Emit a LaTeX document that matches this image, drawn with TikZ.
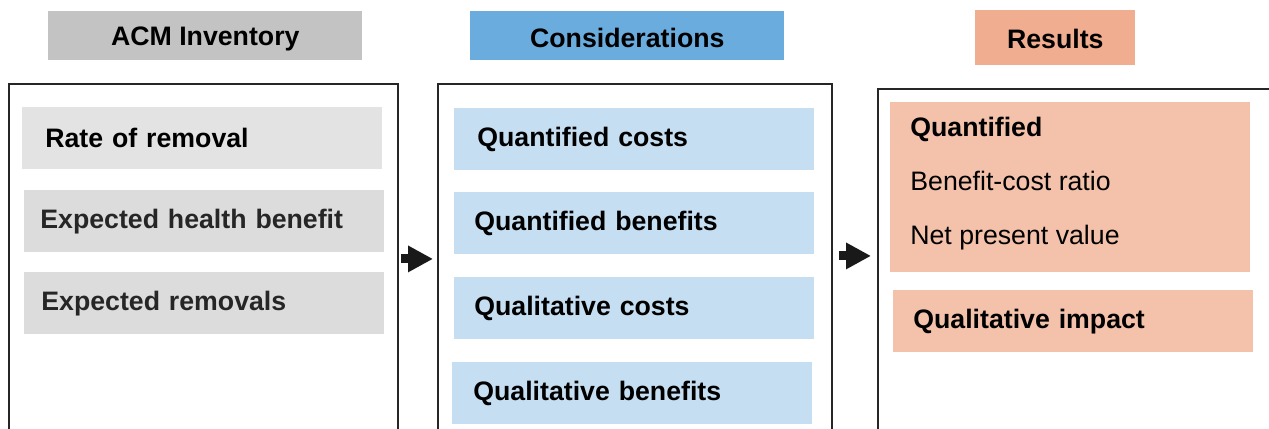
\documentclass[tikz,border=0pt]{standalone}
\usepackage{fontspec}
\setmainfont{Liberation Sans}
\usetikzlibrary{arrows.meta}

\definecolor{invhead}{HTML}{C3C3C3}
\definecolor{invitem}{HTML}{DCDCDC}
\definecolor{conshead}{HTML}{6AACDE}
\definecolor{consitem}{HTML}{C5DEF2}
\definecolor{reshead}{HTML}{F0AD8F}
\definecolor{resitem}{HTML}{F4C2AA}

\tikzset{
  txt/.style={font=\fontsize{15.2pt}{18pt}\selectfont\bfseries},
  header/.style={txt, fill=#1, inner sep=0pt, minimum height=0.98cm, anchor=north west},
  frame/.style={draw=black!85, line width=1.1pt, inner sep=0pt, anchor=north west},
  item/.style 2 args={txt, fill=#1, anchor=north west, align=left,
    inner ysep=0pt, inner xsep=#2, text width=7.2cm-2*#2, minimum height=1.24cm},
  flow/.style={line width=0.18cm, black!90, -{Triangle[length=0.5cm,width=0.5cm]}}
}

\begin{document}
\begin{tikzpicture}[x=0.02cm, y=-0.02cm]
  \useasboundingbox (0,0) rectangle (1269,429);
  \clip (0,0) rectangle (1269,429);

  % column headers
  \node[header=invhead, minimum width=6.28cm] (hinv) at (48,11) {};
  \node[txt] at ([yshift=-0.07cm]hinv.center) {ACM Inventory};
  \node[header=conshead, minimum width=6.28cm] (hcons) at (470,11) {};
  \node[txt] at ([yshift=-0.04cm]hcons.center) {Considerations};
  \node[header=reshead, minimum width=3.2cm, minimum height=1.1cm] (hres) at (975,10) {};
  \node[txt] at ([yshift=-0.02cm]hres.center) {Results};

  % frames, open past the lower edge
  \node[frame, minimum width=7.78cm, minimum height=7.14cm] (inv) at (8,83) {};
  \node[frame, minimum width=7.88cm, minimum height=7.14cm] (cons) at (437,83) {};
  \node[frame, minimum width=8.3cm, minimum height=7.04cm] (res) at (877,88) {};

  % inventory
  \node[item={invitem!80!white}{0.46cm}] (rate) at (22,107) {Rate of removal};
  \node[item={invitem}{0.32cm}, text=black!85] (health) at (24,190) {Expected health benefit};
  \node[item={invitem}{0.34cm}, text=black!85] (removals) at (24,272) {Expected removals};

  % considerations
  \node[item={consitem}{0.46cm}] (qcost) at (454,108) {Quantified costs};
  \node[item={consitem}{0.4cm}] (qben) at (454,192) {Quantified benefits};
  \node[item={consitem}{0.4cm}] (lcost) at (454,277) {Qualitative costs};
  \node[item={consitem}{0.42cm}] (lben) at (452,362) {Qualitative benefits};

  % results
  \node[item={resitem}{0.4cm}, minimum height=3.4cm] (quant) at (890,102) {};
  \node[anchor=north west, align=left, inner sep=0pt,
    font=\fontsize{15.2pt}{30.7pt}\selectfont] (quanttxt)
    at ([xshift=0.4cm, yshift=-0.3cm]quant.north west)
    {\textbf{Quantified}\\Benefit-cost ratio\\Net present value};
  \node[item={resitem}{0.4cm}] (qimp) at (893,290) {Qualitative impact};

  \draw[flow, shorten <=0.04cm, shorten >=0.08cm]
    ([yshift=0.07cm]inv.east) -- ([yshift=0.07cm]inv.east -| cons.west);
  \draw[flow, shorten <=0.12cm, shorten >=0.12cm]
    ([yshift=0.13cm]cons.east) -- ([yshift=0.13cm]cons.east -| res.west);
\end{tikzpicture}
\end{document}
